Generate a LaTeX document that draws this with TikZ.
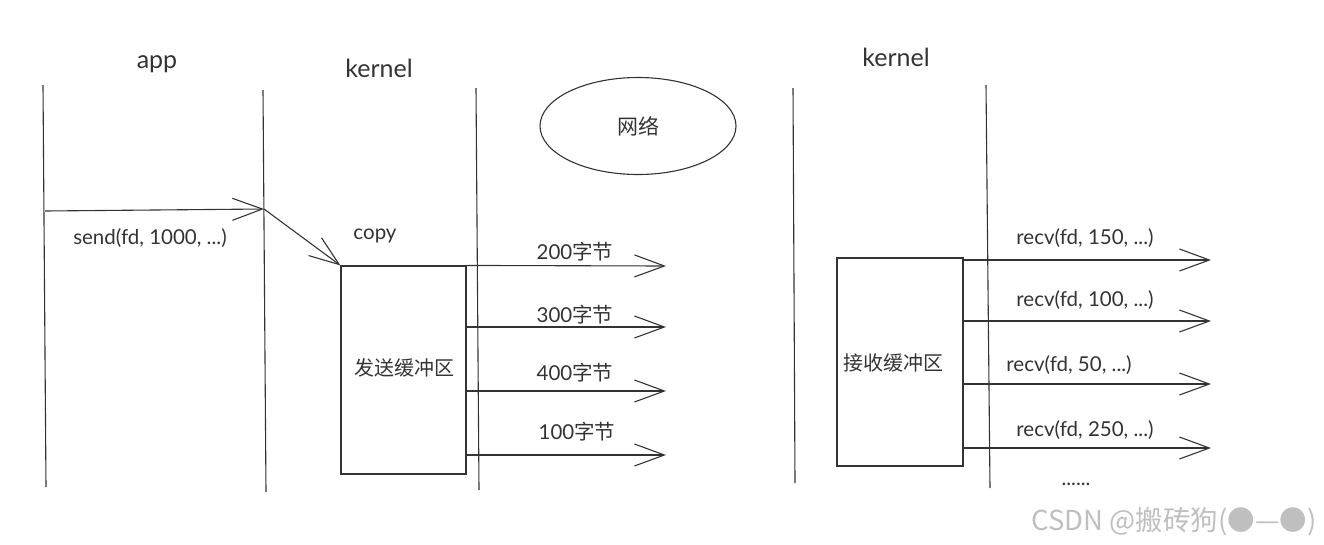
\documentclass[tikz,border=0pt]{standalone}
\usepackage{fontspec}
\setmainfont{Lato}
\newfontfamily\cjk{Noto Sans CJK SC}
\usetikzlibrary{arrows.meta,shapes.geometric}
\definecolor{ink}{HTML}{333333}
\tikzset{
  life/.style={draw=ink, line width=1.1pt},
  conn/.style={draw=ink, line width=1.1pt, -{Straight Barb[length=30pt,width=22pt,line width=1.1pt]}},
  lbl/.style={font=\fontsize{20.5}{24}\selectfont, text=ink, inner sep=0pt},
  ttl/.style={font=\fontsize{25}{29}\selectfont, text=ink, inner sep=0pt},
  zh/.style={font=\fontsize{20}{24}\selectfont\cjk, text=ink, inner sep=0pt},
  buf/.style={draw=ink, line width=1.1pt, inner sep=0pt},
}
\begin{document}
\begin{tikzpicture}[x=1pt,y=-1pt]
\useasboundingbox (0,0) rectangle (1324,544);
% lifelines
\coordinate (a1) at (43,85);  \coordinate (a2) at (46,487);
\coordinate (b1) at (263,90); \coordinate (b2) at (266,492);
\coordinate (c1) at (476,88); \coordinate (c2) at (479,490);
\coordinate (d1) at (793,88); \coordinate (d2) at (795,483);
\coordinate (e1) at (986,85); \coordinate (e2) at (990,488);
\draw[life] (a1) -- (a2);
\draw[life] (b1) -- (b2);
\draw[life] (c1) -- (c2);
\draw[life] (d1) -- (d2);
\draw[life] (e1) -- (e2);
% titles
\node[ttl] (tapp) at (157,64) {app};
\node[ttl] (tk1) at (379,68) {kernel};
\node[ttl] (tk2) at (896,57) {kernel};
% network
\node[ellipse, draw=ink, line width=1.1pt, minimum width=196pt, minimum height=97pt, zh, font=\fontsize{21}{24}\selectfont\cjk] (net) at (638,126) {网络};
% buffers
\node[buf, minimum width=125pt, minimum height=208pt] (sb) at (403.5,370) {};
\node[zh] (sbt) at (404,368) {发送缓冲区};
\node[buf, minimum width=126pt, minimum height=208pt] (rb) at (900,362) {};
\node[zh] (rbt) at (893,363) {接收缓冲区};
% send
\coordinate (s0) at (45,211);
\coordinate (s1) at (264,209);
\draw[conn] (s0) -- (s1);
\node[lbl] (sendl) at (150,238) {send(fd, 1000, ...)};
\draw[conn] (s1) -- (sb.north west);
\node[lbl] (copyl) at (375,236) {copy};
% outgoing
\coordinate (o1) at (666,266);
\coordinate (o2) at (666,327);
\coordinate (o3) at (666,391);
\coordinate (o4) at (666,455);
\draw[conn] (sb.north east) -- (o1);
\draw[conn] (sb.east |- o2) -- (o2);
\draw[conn] (sb.east |- o3) -- (o3);
\draw[conn] (sb.east |- o4) -- (o4);
\node[lbl] (l1) at (575,252) {200{\cjk 字节}};
\node[lbl] (l2) at (575,315) {300{\cjk 字节}};
\node[lbl] (l3) at (575,373) {400{\cjk 字节}};
\node[lbl] (l4) at (577,432) {100{\cjk 字节}};
% receive
\coordinate (r1) at (1211,260);
\coordinate (r2) at (1211,321);
\coordinate (r3) at (1211,384);
\coordinate (r4) at (1211,448);
\draw[conn] (rb.east |- r1) -- (r1);
\draw[conn] (rb.east |- r2) -- (r2);
\draw[conn] (rb.east |- r3) -- (r3);
\draw[conn] (rb.east |- r4) -- (r4);
\node[lbl] (q1) at (1085,238) {recv(fd, 150, ...)};
\node[lbl] (q2) at (1085,300) {recv(fd, 100, ...)};
\node[lbl] (q3) at (1069,365) {recv(fd, 50, ...)};
\node[lbl] (q4) at (1085,430) {recv(fd, 250, ...)};
\node[lbl] (dots) at (1076,484) {......};
% watermark
\node[font=\fontsize{27.5}{31}\selectfont\cjk, text=black!25, inner sep=0pt] (wm) at (1174,522) {CSDN @搬砖狗(●—●)};
\end{tikzpicture}
\end{document}
